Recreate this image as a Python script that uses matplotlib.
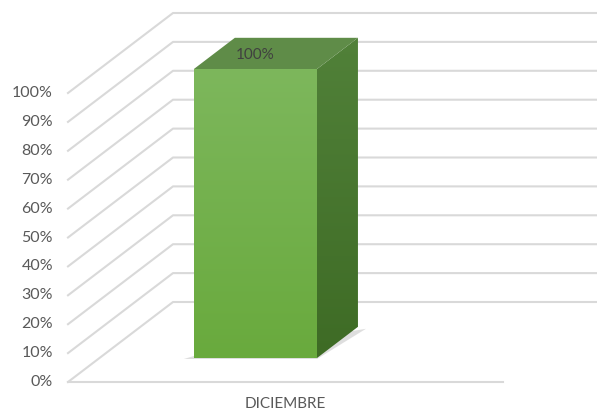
import matplotlib
matplotlib.use('Agg')
import matplotlib.pyplot as plt
import numpy as np
from matplotlib.patches import Polygon

categorias = ['DICIEMBRE']
valores = [1.00]
ticks = [0, 0.1, 0.2, 0.3, 0.4, 0.5, 0.6, 0.7, 0.8, 0.9, 1.0]
etiquetas = ['0%', '10%', '20%', '30%', '40%', '50%', '60%', '70%', '80%', '90%', '100%']

plt.rcParams['font.family'] = ['Lato', 'DejaVu Sans']

W, H = 597, 413
fig = plt.figure(figsize=(W / 100, H / 100), dpi=100)
ax = fig.add_axes([0, 0, 1, 1])
ax.set_xlim(0, W)
ax.set_ylim(H, 0)
ax.axis('off')

# proyeccion oblicua: categoria c, valor v, profundidad d (0 frente, 1 fondo)
X0, X1 = 68, 503
Y0, ALTO = 382, 289
DX, DY = 105, -80


def proj(c, v, d):
    x = (X0 + X1) / 2 + (X1 - X0) * c + DX * d
    y = Y0 - ALTO * v + DY * d
    return x, y


gris = '#d9d9d9'
for t in ticks:
    a = proj(-0.5, t, 0)
    b = proj(-0.5, t, 1)
    e = proj(0.6, t, 1)
    ax.plot([a[0], b[0], e[0]], [a[1], b[1], e[1]], color=gris, lw=1.5, zorder=1)
a = proj(-0.5, 0, 0)
b = proj(0.5, 0, 0)
ax.plot([a[0], b[0]], [a[1], b[1]], color=gris, lw=1.5, zorder=1)

for t, lab in zip(ticks, etiquetas):
    x, y = proj(-0.5, t, 0)
    ax.text(x - 15, y, lab, ha='right', va='center', fontsize=11.5, color='#595959')

# barras
c0, c1 = -0.283, 0.0
d0, d1 = 0.3, 0.69
for i, v in enumerate(valores):
    off = i
    fl = proj(c0 + off, 0, d0)
    fr = proj(c1 + off, 0, d0)
    tl = proj(c0 + off, v, d0)
    tr = proj(c1 + off, v, d0)
    bl = proj(c0 + off, v, d1)
    br = proj(c1 + off, v, d1)
    sb = proj(c1 + off, 0, d1)

    # sombra
    sh = Polygon([(fl[0] - 10, fl[1] + 1), (fr[0], fr[1] + 1), (sb[0] + 8, sb[1] + 2), (fl[0], fl[1] - 2)],
                 closed=True, facecolor='#bfbfbf', edgecolor='none', alpha=0.5, zorder=2)
    ax.add_patch(sh)

    # cara frontal con degradado
    frente = Polygon([fl, fr, tr, tl], closed=True, facecolor='none', edgecolor='none', zorder=3)
    ax.add_patch(frente)
    grad = np.linspace(0, 1, 256).reshape(-1, 1)
    cm = matplotlib.colors.LinearSegmentedColormap.from_list('g', ['#7db75c', '#69aa3d'])
    im = ax.imshow(grad, cmap=cm, extent=[tl[0], fr[0], fr[1], tl[1]], aspect='auto', zorder=3)
    im.set_clip_path(frente)

    # cara lateral
    lado = Polygon([fr, tr, br, sb], closed=True, facecolor='none', edgecolor='none', zorder=3)
    ax.add_patch(lado)
    cm2 = matplotlib.colors.LinearSegmentedColormap.from_list('g2', ['#518139', '#3e6b25'])
    im2 = ax.imshow(grad, cmap=cm2, extent=[fr[0], br[0], fr[1], br[1]], aspect='auto', zorder=3)
    im2.set_clip_path(lado)

    # cara superior
    arriba = Polygon([tl, tr, br, bl], closed=True, facecolor='#5f8c48', edgecolor='none', zorder=4)
    ax.add_patch(arriba)

    cx = (tl[0] + bl[0]) / 2 + 41
    cy = (tl[1] + bl[1]) / 2
    ax.text(cx, cy + 2, f'{v * 100:.0f}%', ha='center', va='center', fontsize=11, color='#404040', zorder=5)

for i, cat in enumerate(categorias):
    x, y = proj(i, 0, 0)
    ax.text(x, y + 22, cat, ha='center', va='center', fontsize=11, color='#595959')

fig.savefig('out.png', dpi=100)
